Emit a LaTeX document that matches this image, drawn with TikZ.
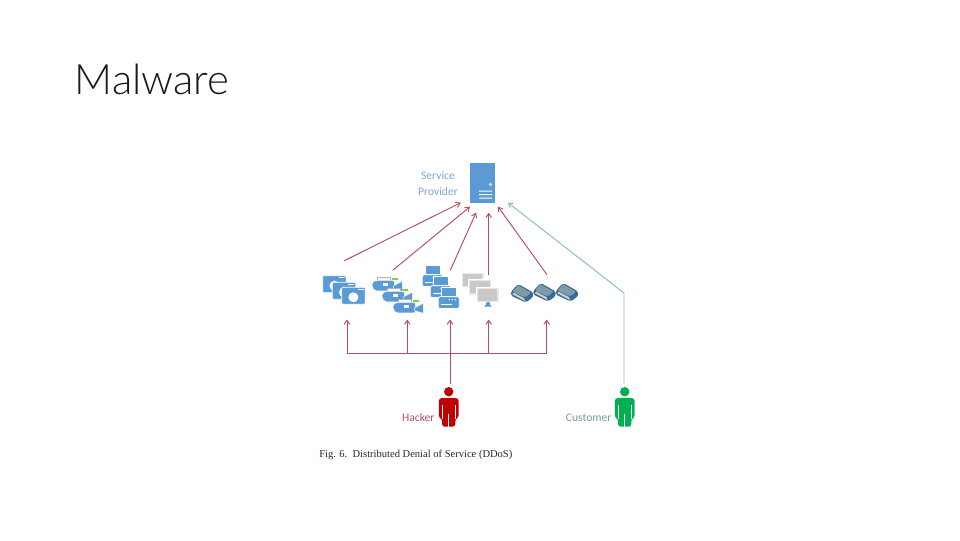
\documentclass[tikz,border=0pt]{standalone}
\usepackage{fontspec}
\setmainfont{Carlito}
\newfontfamily\capfont{Liberation Serif}
\newfontfamily\titlefont{Lato Light}
\usetikzlibrary{arrows.meta}
\definecolor{iconblue}{HTML}{5B9BD5}
\definecolor{labelblue}{HTML}{7FA8D6}
\definecolor{hackerred}{HTML}{C00000}
\definecolor{customergreen}{HTML}{00B050}
\definecolor{linered}{HTML}{B4505C}
\definecolor{linegreen}{HTML}{86C49A}
\definecolor{routerdark}{HTML}{3A6688}
\definecolor{routertop}{HTML}{7C9CA8}
\definecolor{routerlight}{HTML}{CBD0D2}
\definecolor{routerend}{HTML}{2F6FA8}
\tikzset{
	person/.pic={
		\fill[#1] (0,0) circle (4.7);
		\fill[#1, rounded corners=2] (-9.8,6.4) -- (9.8,6.4) -- (9.8,26.6) -- (6.6,26.6) -- (6.6,35) -- (-6.6,35) -- (-6.6,26.6) -- (-9.8,26.6) -- cycle;
		\draw[white, line width=0.6] (-6.4,13) -- (-6.4,27) (6.4,13) -- (6.4,27) (0,22) -- (0,35.5);
	},
	photocam/.pic={
		\draw[white, fill=iconblue, line width=0.5, rounded corners=0.8] (0,0) rectangle (23.5,17);
		\fill[white] (11.7,10) circle (5);
		\fill[white] (15.8,1.2) rectangle (22,2.6);
	},
	videocam/.pic={
		\draw[gray!60, fill=white, line width=0.4] (6,0.5) rectangle (19,4);
		\fill[green!50!olive!70] (20.5,1) rectangle (26.5,3.2);
		\draw[white, fill=iconblue, line width=0.6, rounded corners=1.5] (0,6) -- (3,3.6) -- (23,3.6) -- (23,14.4) -- (3,14.4) -- (0,10) -- cycle;
		\draw[white, fill=iconblue, line width=0.4] (22,9) -- (30.6,4.5) -- (30.6,14.6) -- (22,12) -- cycle;
		\fill[white] (11.7,6) rectangle (16,9);
	},
	printerbox/.pic={
		\draw[white, fill=iconblue, line width=0.5] (3.4,0) rectangle (17.7,9.8);
		\draw[white, fill=iconblue, line width=0.6, rounded corners=1] (0,9.8) rectangle (21,21.5);
		\fill[white] (3,16.8) rectangle (14,18);
		\foreach \d in {11,14,17} {
			\fill[white] (\d,12.6) circle (0.7);
		}
	},
	monitorbox/.pic={
		\draw[white, fill=gray!18, line width=0.5] (-0.8,-0.8) rectangle (22.4,15);
		\fill[gray!42] (1,1) rectangle (20.6,13.2);
	},
	routerbox/.pic={
		\fill[routerdark, rounded corners=1.5] (0,8) -- (7.5,0) -- (22.5,8.5) -- (22.5,13) -- (15,18.5) -- (0,11.5) -- cycle;
		\fill[routertop, rounded corners=1] (1.5,7.6) -- (7.5,1.4) -- (20.5,8.6) -- (14.5,13.4) -- cycle;
		\fill[routerlight] (1.5,10.2) -- (3,8.8) -- (13.5,14.2) -- (14.2,17) -- cycle;
		\fill[routerend] (15.3,13.8) -- (21.8,9.6) -- (21.8,12.8) -- (15.3,17.4) -- cycle;
	}
}
\begin{document}
\begin{tikzpicture}[x=0.75pt, y=-0.75pt,
	every node/.style={inner sep=0pt},
	redarrow/.style={draw=linered, line width=0.7pt, -{Straight Barb[length=3pt,width=4.2pt]}},
	greenarrow/.style={draw=linegreen, line width=0.7pt, -{Straight Barb[length=3pt,width=4.2pt]}},
	figlabel/.style={font=\fontsize{8.7}{10.5}\selectfont, align=center}]
	\useasboundingbox[fill=white] (0,0) rectangle (960,540);
	\node[anchor=base west, font=\titlefont\fontsize{31.4}{36}\selectfont, text=black!90] (title) at (74.5,94) {Malware};
	\node[fill=iconblue, minimum width=18.75pt, minimum height=30pt] (server) at (482.8,183.3) {};
	\fill[labelblue!40] (490.5,184.5) circle (1.9);
	\fill[white] (479,190.5) rectangle (492,191.5) (479,194) rectangle (492,195) (479,197.5) rectangle (492,198.5);
	\node[figlabel, text=labelblue] (provider) at (438,183.2) {Service\\[1.5pt]Provider};
	\foreach \dx/\dy in {0/0,9.6/6.6,19/11.6} {
		\pic at (322.7+\dx,275.7+\dy) {photocam};
	}
	\foreach \dx/\dy in {0/0,10/11,21/22} {
		\pic at (371.7+\dx,276.7+\dy) {videocam};
	}
	\foreach \dx/\dy in {0/0,8/11,16/22} {
		\pic at (422.3+\dx,265+\dy) {printerbox};
	}
	\foreach \dx/\dy in {0/0,7.5/7.5,15/15} {
		\pic at (461.7+\dx,272.7+\dy) {monitorbox};
	}
	\fill[iconblue] (484,306.7) -- (486,304.5) -- (486.5,302) -- (489.5,302) -- (490,304.5) -- (492,306.7) -- cycle;
	\foreach \dx/\dy in {0/0,22.5/-1,45/-1} {
		\pic at (510.7+\dx,284+\dy) {routerbox};
	}
	\node[minimum width=14.7pt, minimum height=30pt] (hacker) at (448.7,407) {};
	\node[minimum width=14.7pt, minimum height=30pt] (customer) at (624.7,407) {};
	\pic at (448.7,391.7) {person=hackerred};
	\pic at (624.7,391.7) {person=customergreen};
	\node[figlabel, text=linered] (hackerlabel) at (418.3,417.7) {Hacker};
	\node[figlabel, text=linegreen!85!black] (customerlabel) at (588.7,417.7) {Customer};
	\node[anchor=base west, font=\capfont\fontsize{7.9}{9}\selectfont, text=black!85] (caption) at (319,457.3) {Fig. 6.\ \ Distributed Denial of Service (DDoS)};
	\coordinate (camsout) at (344.3,260.7);
	\coordinate (vidsout) at (392.7,270.3);
	\coordinate (prnsout) at (450.3,270.3);
	\coordinate (monsout) at (488.7,275);
	\coordinate (rtrsout) at (547,274.7);
	\coordinate (srvcams) at (460.7,202.7);
	\coordinate (srvvids) at (470,206.7);
	\coordinate (srvprns) at (476,212.7);
	\coordinate (srvmons) at (488.7,212.7);
	\coordinate (srvrtrs) at (498,206.7);
	\coordinate (srvcust) at (508,202.7);
	\coordinate (custbend) at (624,293);
	\coordinate (custstart) at (624,383.5);
	\coordinate (hackstart) at (450,383.5);
	\coordinate (busjoin) at (450,353.3);
	\foreach \a/\b in {camsout/srvcams,vidsout/srvvids,prnsout/srvprns,monsout/srvmons,rtrsout/srvrtrs} {
		\draw[redarrow] (\a) -- (\b);
	}
	\draw[greenarrow] (custstart) -- (custbend) -- (srvcust);
	\draw[redarrow] (hackstart) -- (450,319.5);
	\foreach \x in {347,407.3,488.7,546.7} {
		\draw[redarrow] (busjoin) -| (\x,319.5);
	}
\end{tikzpicture}
\end{document}
